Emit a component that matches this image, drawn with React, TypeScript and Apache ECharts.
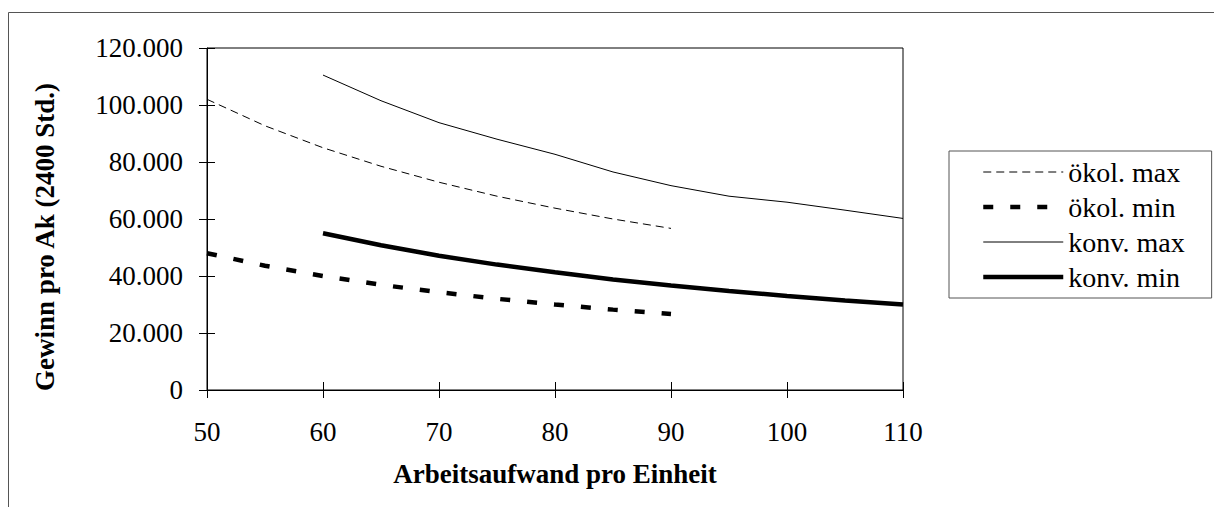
import React, { useEffect, useRef } from 'react';
import * as echarts from 'echarts';

const FONT = 'Liberation Serif';

// Arbeitsaufwand pro Einheit (x values)
const xOekol = [50, 55, 60, 65, 70, 75, 80, 85, 90];
const xKonv = [60, 65, 70, 75, 80, 85, 90, 95, 100, 105, 110];

// Gewinn pro Ak (2400 Std.)
const oekolMax = [102000, 92700, 85000, 78500, 72900, 68000, 63800, 60000, 56700];
const oekolMin = [48000, 43600, 40000, 36900, 34300, 32000, 30000, 28200, 26700];
const konvMax = [110500, 101500, 93800, 88000, 82700, 76500, 71700, 68000, 65900, 63100, 60200];
const konvMin = [55000, 50800, 47100, 44000, 41300, 38800, 36700, 34700, 33000, 31400, 30000];

const seriesNames = ['ökol. max', 'ökol. min', 'konv. max', 'konv. min'];

const xTicks = { min: 50, max: 110, interval: 10 };
const yTicks = { min: 0, max: 120000, interval: 20000 };

const xTitle = 'Arbeitsaufwand pro Einheit';
const yTitle = 'Gewinn pro Ak (2400 Std.)';

const fmt = (v: number) => String(v).replace(/\B(?=(\d{3})+(?!\d))/g, '.');

export default function App() {
  const ref = useRef<HTMLDivElement>(null);

  useEffect(() => {
    const chart = echarts.init(ref.current!, null, { renderer: 'svg' });
    const pairs = (xs: number[], ys: number[]) => xs.map((x, i) => [x, ys[i]]);
    const labelStyle = { fontSize: 27, fontFamily: FONT, color: '#000' };

    chart.setOption({
      animation: false,
      backgroundColor: '#fff',
      textStyle: { fontFamily: FONT, color: '#000' },
      grid: {
        left: 207,
        top: 48,
        right: 311,
        bottom: 117,
        show: true,
        borderColor: '#000',
        borderWidth: 1,
        backgroundColor: 'transparent',
      },
      xAxis: [
        {
          type: 'value',
          ...xTicks,
          position: 'bottom',
          axisLine: { show: true, lineStyle: { color: '#000', width: 1 } },
          axisTick: { show: true, inside: false, length: 8, lineStyle: { color: '#000', width: 1 } },
          axisLabel: { margin: 28, ...labelStyle },
          splitLine: { show: false },
          name: xTitle,
          nameLocation: 'middle',
          nameGap: 70,
          nameTextStyle: { fontSize: 27, fontWeight: 'bold', fontFamily: FONT, color: '#000' },
        },
        {
          type: 'value',
          ...xTicks,
          position: 'bottom',
          axisLine: { show: false },
          axisTick: { show: true, inside: true, length: 8, lineStyle: { color: '#000', width: 1 } },
          axisLabel: { show: false },
          splitLine: { show: false },
        },
      ],
      yAxis: [
        {
          type: 'value',
          ...yTicks,
          position: 'left',
          axisLine: { show: true, lineStyle: { color: '#000', width: 1 } },
          axisTick: { show: true, inside: false, length: 8, lineStyle: { color: '#000', width: 1 } },
          axisLabel: { margin: 24, ...labelStyle, formatter: (v: number) => fmt(v) },
          splitLine: { show: false },
        },
        {
          type: 'value',
          ...yTicks,
          position: 'left',
          axisLine: { show: false },
          axisTick: { show: true, inside: true, length: 8, lineStyle: { color: '#000', width: 1 } },
          axisLabel: { show: false },
          splitLine: { show: false },
        },
      ],
      legend: {
        orient: 'vertical',
        left: 949,
        top: 151,
        padding: [7, 27, 7, 32],
        itemGap: 7,
        itemWidth: 80,
        itemHeight: 14,
        borderColor: '#555',
        borderWidth: 1,
        backgroundColor: '#fff',
        lineStyle: { width: 'inherit' },
        itemStyle: { opacity: 0, color: 'transparent', borderWidth: 0 },
        textStyle: { fontSize: 28, fontFamily: FONT, color: '#000' },
        data: seriesNames,
      },
      graphic: [
        {
          type: 'rect',
          silent: true,
          shape: { x: 8.5, y: 12.5, width: 1300, height: 600 },
          style: { fill: 'none', stroke: '#555', lineWidth: 1 },
          z: -1,
        },
        {
          type: 'text',
          x: 45,
          y: 237,
          rotation: Math.PI / 2,
          style: {
            text: yTitle,
            fontSize: 27,
            fontWeight: 'bold',
            fontFamily: FONT,
            fill: '#000',
            align: 'center',
            verticalAlign: 'middle',
          },
        },
      ],
      series: [
        {
          name: seriesNames[0],
          type: 'line',
          symbol: 'none',
          data: pairs(xOekol, oekolMax),
          lineStyle: { color: '#000', width: 1, type: [8, 5] },
          itemStyle: { color: '#000' },
        },
        {
          name: seriesNames[1],
          type: 'line',
          symbol: 'none',
          data: pairs(xOekol, oekolMin),
          lineStyle: { color: '#000', width: 4.5, type: [10, 17] },
          itemStyle: { color: '#000' },
        },
        {
          name: seriesNames[2],
          type: 'line',
          symbol: 'none',
          data: pairs(xKonv, konvMax),
          lineStyle: { color: '#000', width: 1 },
          itemStyle: { color: '#000' },
        },
        {
          name: seriesNames[3],
          type: 'line',
          symbol: 'none',
          data: pairs(xKonv, konvMin),
          lineStyle: { color: '#000', width: 4.5 },
          itemStyle: { color: '#000' },
        },
      ],
    });

    return () => chart.dispose();
  }, []);

  return (
    <div
      ref={ref}
      style={{ position: 'fixed', left: 0, top: 0, width: 1214, height: 507, background: '#fff' }}
    />
  );
}
